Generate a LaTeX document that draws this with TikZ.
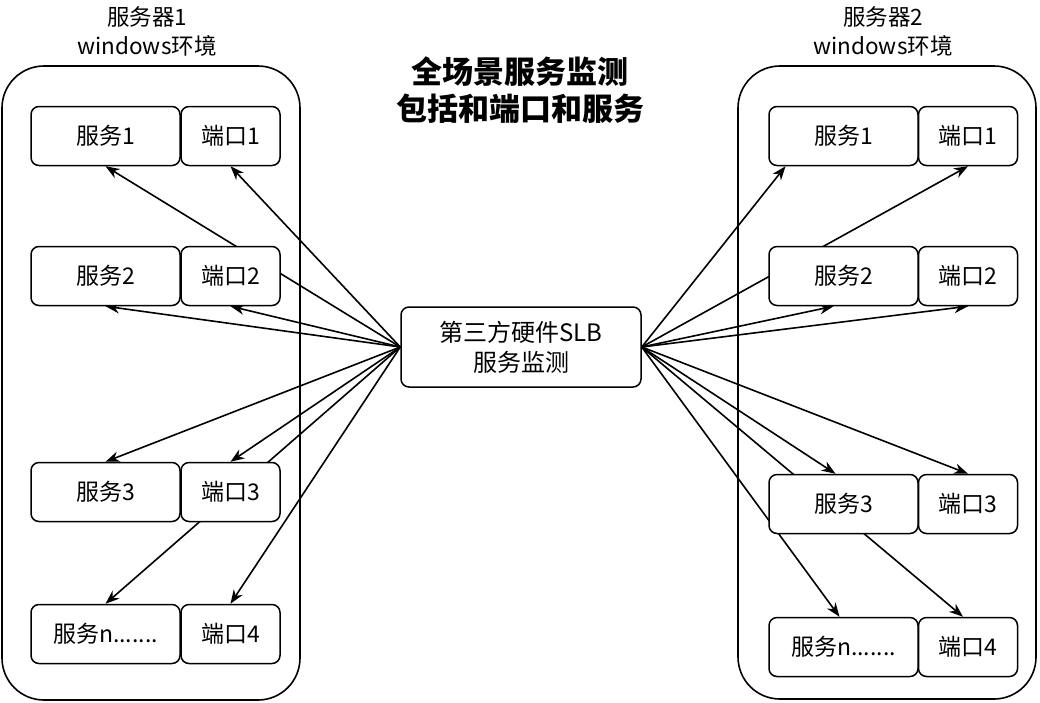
\documentclass[tikz,border=0pt]{standalone}
\usepackage{fontspec}
\setmainfont{Noto Sans CJK SC}
\usetikzlibrary{arrows.meta}
\pgfdeclarelayer{back}
\pgfdeclarelayer{edges}
\pgfsetlayers{back,edges,main}
\tikzset{
  box/.style={draw=black, line width=1.5pt, fill=white, rounded corners=8pt, minimum height=59pt, inner sep=0pt, font=\fontsize{23}{27}\selectfont},
  svc/.style={box, minimum width=149pt},
  port/.style={box, minimum width=99pt},
  container/.style={draw=black, line width=1.6pt, rounded corners=42pt},
  lbl/.style={align=center, font=\fontsize{22.5}{29}\selectfont},
  conn/.style={line width=1.6pt, -{Stealth[length=14pt,width=10.5pt]}},
}
\begin{document}
\begin{tikzpicture}[x=1pt,y=-1pt]
\useasboundingbox (0,0) rectangle (1040,702);
% title
\node[align=center, font=\fontsize{31}{37}\selectfont\bfseries] (title) at (520,90) {全场景服务监测\\包括和端口和服务};
% container labels
\node[lbl] (lab1) at (147,31) {服务器1\\windows环境};
\node[lbl] (lab2) at (883,31) {服务器2\\windows环境};
% containers
\begin{pgfonlayer}{back}
\draw[container] (2,66) rectangle (300,700);
\draw[container] (738,66) rectangle (1036,699);
\end{pgfonlayer}
% center
\node[box, minimum width=240pt, minimum height=80pt, align=center, font=\fontsize{24}{30}\selectfont] (slb) at (521,347) {第三方硬件SLB\\服务监测};
% left boxes
\node[svc] (Ls1) at (105.5,136) {服务1};
\node[port] (Lp1) at (230.5,136) {端口1};
\node[svc] (Ls2) at (105.5,276) {服务2};
\node[port] (Lp2) at (230.5,276) {端口2};
\node[svc] (Ls3) at (105.5,492) {服务3};
\node[port] (Lp3) at (230.5,492) {端口3};
\node[svc] (Ls4) at (105.5,634) {服务n.......};
\node[port] (Lp4) at (230.5,634) {端口4};
% right boxes
\node[svc] (Rs1) at (843.5,136) {服务1};
\node[port] (Rp1) at (968,136) {端口1};
\node[svc] (Rs2) at (843.5,276) {服务2};
\node[port] (Rp2) at (968,276) {端口2};
\node[svc] (Rs3) at (843.5,504) {服务3};
\node[port] (Rp3) at (968,504) {端口3};
\node[svc] (Rs4) at (843.5,647) {服务n.......};
\node[port] (Rp4) at (968,647) {端口4};
% connectors
\begin{pgfonlayer}{edges}
\draw[conn] (slb.west) -- (Ls1.south);
\draw[conn] (slb.west) -- (Lp1.south);
\draw[conn] (slb.west) -- (Ls2.south);
\draw[conn] (slb.west) -- (Lp2.south);
\draw[conn] (slb.west) -- (Ls3.north);
\draw[conn] (slb.west) -- (Lp3.north);
\draw[conn] (slb.west) -- (Ls4.north);
\draw[conn] (slb.west) -- (Lp4.north);
\draw[conn] (slb.east) -- ([xshift=-58pt]Rs1.south);
\draw[conn] (slb.east) -- (Rp1.south);
\draw[conn] (slb.east) -- ([xshift=-10pt]Rs2.south);
\draw[conn] (slb.east) -- (Rp2.south);
\draw[conn] (slb.east) -- ([xshift=-8pt]Rs3.north);
\draw[conn] (slb.east) -- (Rp3.north);
\draw[conn] (slb.east) -- ([xshift=-4pt]Rs4.north);
\draw[conn] (slb.east) -- ([xshift=-5pt]Rp4.north);
\end{pgfonlayer}
\end{tikzpicture}
\end{document}
